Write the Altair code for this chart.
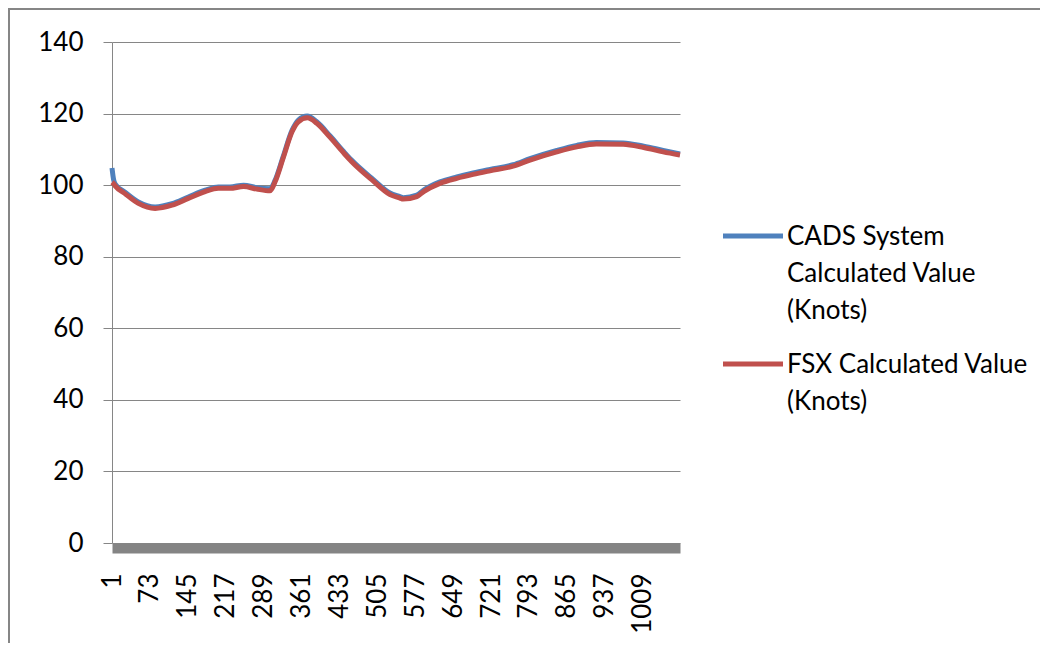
import altair as alt
import pandas as pd

# ---- data ----
idx = [1, 4, 7, 25, 51, 83, 115, 146, 178, 203, 225, 251, 276, 301, 311, 326, 343, 355,
       372, 390, 415, 441, 456, 497, 529, 548, 554, 580, 593, 624, 656, 687, 719, 763,
       795, 846, 884, 921, 972, 1011, 1048, 1080]
fsx = [100.8, 100.4, 99.8, 97.7, 94.9, 93.5, 94.4, 96.3, 98.2, 99.1, 99.1, 99.6, 98.9, 98.4,
       101.0, 107.5, 114.9, 117.7, 118.8, 117.3, 113.4, 109.0, 106.6, 101.2, 97.4, 96.4,
       96.1, 96.8, 98.2, 100.5, 101.9, 103.0, 104.0, 105.3, 107.0, 109.3, 110.7, 111.5,
       111.4, 110.5, 109.3, 108.4]
cads = [104.8, 101.6, 100.3, 98.1, 95.3, 93.9, 94.8, 96.7, 98.6, 99.5, 99.5, 100.0, 99.3, 99.0,
        101.4, 107.9, 115.3, 118.2, 119.3, 117.7, 113.8, 109.4, 107.0, 101.6, 97.8, 96.8,
        96.5, 97.2, 98.6, 100.9, 102.3, 103.4, 104.4, 105.7, 107.4, 109.7, 111.1, 111.9,
        111.8, 110.9, 109.7, 108.7]
series_names = ["CADS System Calculated Value (Knots)", "FSX Calculated Value (Knots)"]
legend_labels = ["CADS System\nCalculated Value\n(Knots)", "FSX Calculated Value\n(Knots)"]
x_ticks = list(range(1, 1010, 72))
y_ticks = [0, 20, 40, 60, 80, 100, 120, 140]

colors = ["#4F81BD", "#C0504D"]
FONT = "Lato"
FS = 26
W, H = 568, 501

df = pd.DataFrame({
    "idx": idx * 2,
    "value": cads + fsx,
    "series": [series_names[0]] * len(idx) + [series_names[1]] * len(idx),
})
one = pd.DataFrame({"k": [0]})
leg = pd.DataFrame({"series": series_names, "label": legend_labels})

x_enc = alt.X("idx:Q", title=None,
              scale=alt.Scale(domain=[1, 1080], nice=False, zero=False),
              axis=alt.Axis(values=x_ticks, format="d", labelAngle=270, labelAlign="right",
                            labelBaseline="middle", labelFont=FONT, labelFontSize=FS,
                            labelColor="#000000", ticks=False, tickSize=0,
                            labelPadding=25, offset=5, domainWidth=10,
                            domainColor="#848484", grid=False, labelFlush=False,
                            labelOverlap=False))
y_enc = alt.Y("value:Q", title=None,
              scale=alt.Scale(domain=[0, 140], nice=False),
              axis=alt.Axis(values=y_ticks, format="d", labelFont=FONT, labelFontSize=FS,
                            labelColor="#000000", tickSize=9, tickColor="#868686",
                            domainColor="#868686", labelPadding=20,
                            gridColor="#868686", gridWidth=1, labelFlush=False))

base = alt.Chart(df)
blue = base.transform_filter(alt.datum.series == series_names[0]).mark_line(
    strokeWidth=5, interpolate="monotone", color=colors[0]).encode(x=x_enc, y=y_enc)
red = base.transform_filter(alt.datum.series == series_names[1]).mark_line(
    strokeWidth=5, interpolate="monotone", color=colors[1]).encode(x=x_enc, y=y_enc)

border = alt.Chart(one).mark_rect(fill="transparent", stroke="#868686", strokeWidth=2).encode(
    x=alt.value(-103), x2=alt.value(1100), y=alt.value(-33), y2=alt.value(800))

leg_blue_sym = alt.Chart(leg).transform_filter(alt.datum.series == series_names[0]).mark_rule(
    strokeWidth=5, color=colors[0]).encode(x=alt.value(611), x2=alt.value(671), y=alt.value(194))
leg_red_sym = alt.Chart(leg).transform_filter(alt.datum.series == series_names[1]).mark_rule(
    strokeWidth=5, color=colors[1]).encode(x=alt.value(611), x2=alt.value(671), y=alt.value(322))
leg_blue_txt = alt.Chart(leg).transform_filter(alt.datum.series == series_names[0]).mark_text(
    align="left", baseline="alphabetic", lineBreak="\n", lineHeight=37, font=FONT,
    fontSize=FS, color="#000000").encode(x=alt.value(675), y=alt.value(203), text="label:N")
leg_red_txt = alt.Chart(leg).transform_filter(alt.datum.series == series_names[1]).mark_text(
    align="left", baseline="alphabetic", lineBreak="\n", lineHeight=37, font=FONT,
    fontSize=FS, color="#000000").encode(x=alt.value(675), y=alt.value(331), text="label:N")

chart = alt.layer(border, blue, red, leg_blue_sym, leg_red_sym, leg_blue_txt, leg_red_txt).properties(
    width=W, height=H,
    autosize=alt.AutoSizeParams(type="none"),
    padding={"left": 104, "top": 34, "right": 360, "bottom": 100},
    background="white",
).configure_view(strokeWidth=0)

chart.save("out.html", embed_options={"renderer": "svg", "actions": False})
